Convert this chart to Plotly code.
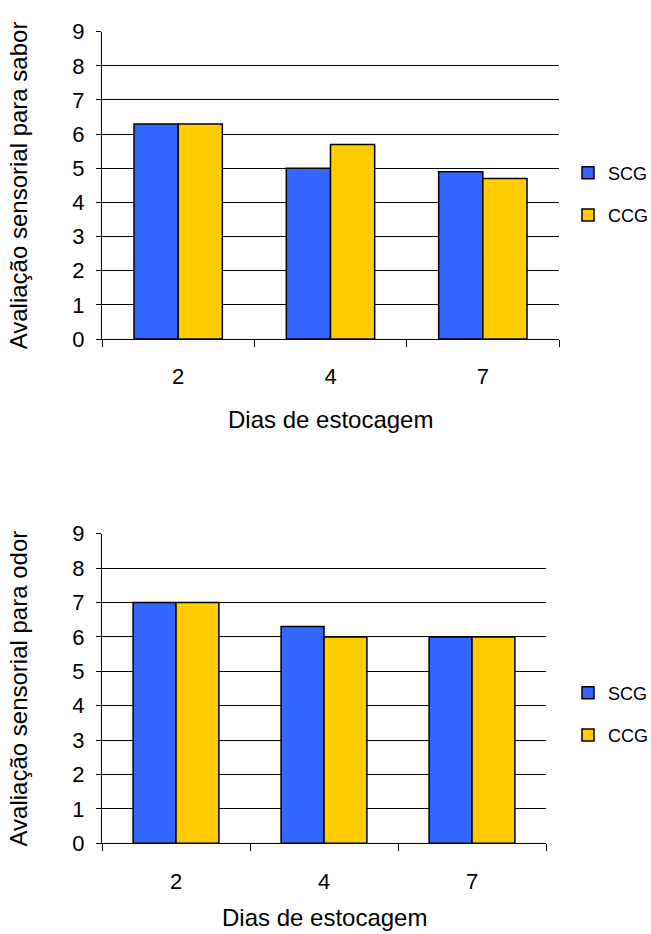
import plotly.graph_objects as go

# Storage days (categories) and sensory scores per treatment
dias = ["2", "4", "7"]
sabor_scg = [6.3, 5.0, 4.9]
sabor_ccg = [6.3, 5.7, 4.7]
odor_scg = [7.0, 6.3, 6.0]
odor_ccg = [7.0, 6.0, 6.0]
series_names = ["SCG", "CCG"]
series_colors = ["#3366FF", "#FFCC00"]
y_ticks = list(range(0, 10))

W, H = 651, 934
FONT = "Arial, Liberation Sans, sans-serif"
TICK_SIZE = 22
TITLE_SIZE = 24
LEG_SIZE = 18


def px_x(v):
    return v / W


def px_y(v):
    return 1 - v / H


fig = go.Figure()

panels = [
    ("x", "y", "legend", sabor_scg, sabor_ccg),
    ("x2", "y2", "legend2", odor_scg, odor_ccg),
]
for xa, ya, leg, scg, ccg in panels:
    for name, vals, col in zip(series_names, [scg, ccg], series_colors):
        fig.add_trace(go.Bar(
            x=dias, y=vals, name=name, xaxis=xa, yaxis=ya, legend=leg,
            legendgroup=leg + name,
            marker=dict(color=col, line=dict(color="black", width=1.5)),
        ))

xaxis_common = dict(
    type="category", tickson="boundaries", ticks="outside", ticklen=7,
    tickcolor="black", showline=True, linecolor="black", linewidth=1,
    showgrid=False, zeroline=False, fixedrange=True, automargin=False,
    tickfont=dict(family=FONT, size=TICK_SIZE, color="black"),
    ticklabelstandoff=18,
)
yaxis_common = dict(
    range=[0, 9], tickvals=y_ticks, ticks="outside", ticklen=5,
    tickcolor="black", showline=True, linecolor="black", linewidth=1,
    showgrid=True, gridcolor="black", gridwidth=1, zeroline=False,
    automargin=False, fixedrange=True,
    tickfont=dict(family=FONT, size=TICK_SIZE, color="black"),
    ticklabelstandoff=7,
)

# plot-area rectangles in pixel units (left, right, top, bottom)
top_box = (102, 559, 31.7, 339)
bot_box = (102, 546, 533.7, 843.3)

legend_common = dict(
    font=dict(family=FONT, size=LEG_SIZE, color="black"),
    tracegroupgap=16, traceorder="grouped", bgcolor="rgba(0,0,0,0)",
    xanchor="left", yanchor="middle", itemclick=False, itemdoubleclick=False,
)

fig.update_layout(
    template="none",
    width=W, height=H,
    margin=dict(l=0, r=0, t=0, b=0, autoexpand=False),
    paper_bgcolor="white", plot_bgcolor="white",
    barmode="group", bargap=0.42, bargroupgap=0,
    font=dict(family=FONT, color="black"),
    xaxis=dict(domain=[px_x(top_box[0]), px_x(top_box[1])], anchor="y", **xaxis_common),
    yaxis=dict(domain=[px_y(top_box[3]), px_y(top_box[2])], anchor="x", **yaxis_common),
    xaxis2=dict(domain=[px_x(bot_box[0]), px_x(bot_box[1])], anchor="y2", **xaxis_common),
    yaxis2=dict(domain=[px_y(bot_box[3]), px_y(bot_box[2])], anchor="x2", **yaxis_common),
    legend=dict(x=px_x(568), y=px_y(194), **legend_common),
    legend2=dict(x=px_x(568), y=px_y(714), **legend_common),
    showlegend=True,
)

# axis titles
titles = [
    ("Avaliação sensorial para sabor", 18, (top_box[2] + top_box[3]) / 2, -90),
    ("Avaliação sensorial para odor", 18, (bot_box[2] + bot_box[3]) / 2, -90),
    ("Dias de estocagem", (top_box[0] + top_box[1]) / 2, 419, 0),
    ("Dias de estocagem", (bot_box[0] + bot_box[1]) / 2, 917, 0),
]
for text, cx, cy, ang in titles:
    fig.add_annotation(
        text=text, x=px_x(cx), y=px_y(cy), xref="paper", yref="paper",
        xanchor="center", yanchor="middle", showarrow=False, textangle=ang,
        font=dict(family=FONT, size=TITLE_SIZE, color="black"),
    )

fig.write_html("out.html", config={"displayModeBar": False})
